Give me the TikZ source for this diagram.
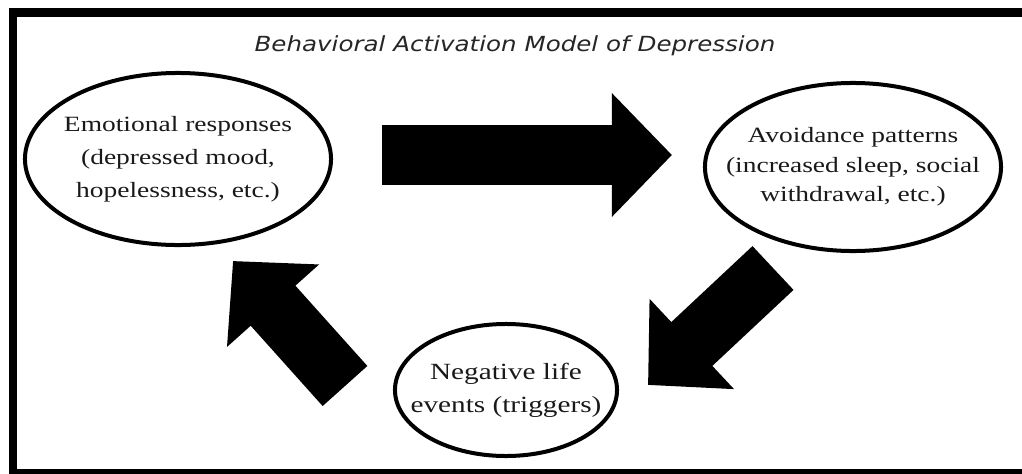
\documentclass[tikz,border=0pt]{standalone}
\usepackage{fontspec}
\setmainfont{Liberation Serif}[FakeStretch=1.26]
\newfontfamily\titlefont{DejaVu Sans Oblique}[FakeStretch=1.18]
\usetikzlibrary{shapes.geometric,arrows.meta}

\begin{document}
\begin{tikzpicture}[
  x=0.025cm, y=-0.025cm,
  bubble/.style={ellipse, draw, line width=0.1cm, inner xsep=-1cm,
                 inner ysep=-0.6cm, align=center, text=black!90},
  blockarrow/.style={line width=1.5cm, -{Triangle[width=3cm, length=1.5cm]}},
  frame/.style={line width=0.22cm},
]
  \useasboundingbox (0,0) rectangle (1022,474);

  % Outer frame (its right side runs off the page)
  \draw[frame] (1040,12.5) -- (13,12.5) -- (13,473) -- (1040,473);

  % Title
  \node[font=\titlefont\fontsize{14.8}{16}\selectfont, text=black!85, anchor=base]
    (title) at (515,51) {Behavioral Activation Model of Depression};

  % The three states of the cycle
  \node[bubble, minimum width=7.65cm, minimum height=4.3cm,
        font=\fontsize{15.5}{23.5}\selectfont] (emo) at (178,159)
    {Emotional responses\\(depressed mood,\\hopelessness, etc.)};
  \node[bubble, minimum width=7.4cm, minimum height=4.2cm,
        font=\fontsize{15.5}{21}\selectfont] (avoid) at (853,167)
    {Avoidance patterns\\(increased sleep, social\\withdrawal, etc.)};
  \node[bubble, minimum width=5.55cm, minimum height=3.3cm,
        font=\fontsize{16.5}{23.5}\selectfont] (neg) at (506,390)
    {Negative life\\events (triggers)};

  % Free ends of the block arrows
  \coordinate (a1s) at (382,155);
  \coordinate (a1e) at (672,155);
  \coordinate (a2s) at (773,268);
  \coordinate (a2e) at (648,385);
  \coordinate (a3s) at (345,386);
  \coordinate (a3e) at (233,261);

  % Block arrows (emo -> avoid -> neg -> emo)
  \draw[blockarrow] (a1s) -- (a1e);
  \draw[blockarrow] (a2s) -- (a2e);
  \draw[blockarrow] (a3s) -- (a3e);
\end{tikzpicture}
\end{document}
